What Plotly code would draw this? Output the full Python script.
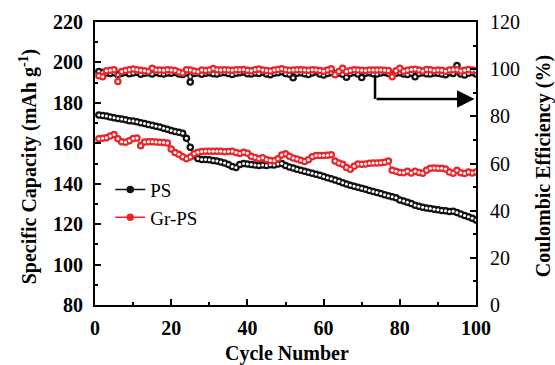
import plotly.graph_objects as go

# ---- data -------------------------------------------------------------
cycles = list(range(1, 101))

cap_ps = [
    174.0, 173.8, 173.5, 173.0, 172.6, 172.3, 172.0, 171.6, 171.2, 171.0,
    170.6, 170.2, 169.8, 169.3, 168.9, 168.4, 168.0, 167.4, 166.9, 166.3,
    165.8, 165.5, 165.0, 162.5, 158.0, 154.0, 152.5, 152.0, 152.0, 151.8,
    151.5, 151.2, 150.8, 150.3, 149.5, 148.5, 148.0, 149.5, 150.0, 149.8,
    149.5, 149.3, 149.0, 149.2, 149.0, 149.4, 149.2, 149.8, 150.0, 149.0,
    148.3, 147.8, 147.2, 146.6, 146.2, 145.7, 145.2, 144.7, 144.2, 143.6,
    143.0, 142.4, 141.8, 141.2, 140.5, 139.8, 139.3, 138.8, 138.2, 137.7,
    137.2, 136.6, 136.1, 135.6, 135.1, 134.6, 134.0, 133.5, 133.0, 132.0,
    131.4, 130.8, 130.2, 129.4, 128.8, 128.4, 128.0, 127.7, 127.4, 127.1,
    126.8, 126.6, 126.3, 126.4, 125.8, 125.0, 124.3, 123.6, 122.9, 122.1,
]

cap_grps = [
    162.2, 162.5, 162.8, 163.6, 164.3, 162.3, 160.8, 160.5, 161.3, 162.4,
    162.6, 158.8, 160.6, 160.8, 160.7, 160.6, 160.5, 160.4, 160.2, 157.2,
    155.5, 154.6, 153.4, 152.4, 153.2, 154.8, 155.6, 155.9, 156.0, 156.0,
    156.0, 156.0, 156.0, 155.8, 155.9, 156.0, 155.4, 155.0, 155.6, 155.1,
    153.6, 153.0, 152.4, 152.8, 152.0, 151.5, 151.3, 152.4, 154.2, 154.8,
    153.6, 152.7, 152.2, 151.6, 151.0, 151.8, 153.4, 153.9, 154.0, 154.0,
    154.1, 154.3, 151.2, 150.2, 149.6, 148.0, 147.2, 148.6, 149.8, 149.6,
    149.8, 150.1, 150.2, 150.2, 150.4, 150.6, 151.2, 146.6, 146.2, 145.6,
    145.4, 146.2, 145.3, 146.2, 145.5, 145.2, 146.6, 147.6, 147.8, 147.7,
    147.6, 147.3, 145.8, 145.2, 146.6, 145.4, 145.1, 145.8, 145.3, 145.8,
]

ce_ps = [
    99.0, 98.6, 98.4, 98.2, 98.5, 97.6, 98.3, 98.6, 98.1, 98.4,
    98.7, 97.8, 98.3, 98.5, 98.0, 98.6, 98.2, 97.9, 98.4, 98.3,
    98.6, 98.0, 97.7, 98.5, 94.6, 98.2, 98.4, 97.8, 98.3, 98.5,
    98.1, 97.9, 98.4, 98.6, 98.2, 97.7, 98.3, 98.5, 98.8, 98.1,
    97.9, 98.4, 98.2, 98.7, 98.0, 97.6, 98.3, 98.5, 98.9, 98.2,
    97.8, 96.4, 98.3, 98.5, 98.1, 97.7, 98.4, 98.9, 98.0, 97.5,
    98.2, 98.5, 98.1, 98.3, 97.8, 96.6, 98.2, 98.6, 98.0, 96.5,
    98.3, 98.5, 98.1, 97.9, 98.4, 98.6, 98.2, 97.8, 98.3, 98.5,
    98.0, 97.7, 98.3, 96.8, 98.2, 98.5, 98.1, 97.9, 98.4, 98.3,
    98.0, 97.6, 98.5, 98.2, 101.6, 98.0, 97.5, 98.3, 98.6, 98.0,
]

ce_grps = [
    97.2, 96.8, 99.3, 99.5, 99.8, 94.8, 99.0, 99.4, 99.7, 100.1,
    99.8, 99.5, 99.3, 99.0, 100.4, 99.6, 99.6, 99.5, 99.7, 99.6,
    99.4, 98.8, 98.4, 99.7, 99.6, 99.2, 98.9, 99.6, 99.4, 99.6,
    100.3, 99.8, 99.6, 99.7, 99.6, 99.5, 99.7, 99.8, 99.9, 99.5,
    99.3, 99.7, 100.1, 99.6, 99.4, 99.2, 99.6, 99.9, 100.2, 99.7,
    99.5, 99.6, 99.8, 99.7, 99.6, 99.5, 99.7, 99.6, 99.4, 99.1,
    99.6, 100.2, 97.6, 99.0, 100.4, 99.0, 99.4, 99.7, 99.6, 99.5,
    99.4, 99.6, 99.6, 99.6, 99.6, 99.5, 99.4, 96.8, 99.3, 100.4,
    99.1, 99.5, 99.9, 100.0, 99.6, 99.2, 99.9, 99.8, 99.4, 99.6,
    99.5, 99.1, 99.6, 99.8, 99.7, 99.2, 99.5, 99.9, 99.6, 99.4,
]

# arrow marking which curve belongs to the right-hand axis
arrow_cycle = 73.5
arrow_from_ce = 97.0
arrow_to_cycle = 99.6
arrow_level_ce = 87.4

BLACK = "#111111"
RED = "#e8262a"
FONT = "Liberation Serif"

fig = go.Figure()


def add_series(x, y, color, name, yaxis, legend):
    fig.add_trace(go.Scatter(
        x=x, y=y, name=name, yaxis=yaxis, mode="lines+markers",
        line=dict(color=color, width=1.5),
        marker=dict(symbol="circle", size=7.5, color=color),
        showlegend=legend, legendgroup=name,
    ))
    # bright glint in the middle of each sphere
    fig.add_trace(go.Scatter(
        x=x, y=y, yaxis=yaxis, mode="markers",
        marker=dict(symbol="circle", size=3, color="white"),
        showlegend=False, hoverinfo="skip", legendgroup=name,
    ))


add_series(cycles, ce_ps, BLACK, "PS", "y2", False)
add_series(cycles, ce_grps, RED, "Gr-PS", "y2", False)
add_series(cycles, cap_ps, BLACK, "PS", "y", True)
add_series(cycles, cap_grps, RED, "Gr-PS", "y", True)

# elbow connector + arrow head pointing to the right axis
fig.add_shape(type="line", xref="x", yref="y2",
              x0=arrow_cycle, x1=arrow_cycle, y0=arrow_from_ce, y1=arrow_level_ce,
              line=dict(color="black", width=2.5))
fig.add_annotation(x=arrow_to_cycle, y=arrow_level_ce, xref="x", yref="y2",
                   ax=arrow_cycle, ay=arrow_level_ce, axref="x", ayref="y2",
                   showarrow=True, arrowhead=2, arrowsize=1.4, arrowwidth=2.5,
                   arrowcolor="black", text="", standoff=0, startstandoff=0)

axis_common = dict(
    showline=True, linecolor="black", linewidth=2,
    ticks="inside", ticklen=6, tickwidth=2, tickcolor="black",
    showgrid=False, zeroline=False,
)

fig.update_layout(
    width=555, height=365,
    margin=dict(l=95, r=79, t=22, b=60),
    paper_bgcolor="white", plot_bgcolor="white",
    font=dict(family=FONT, color="black", size=18),
    xaxis=dict(
        range=[0, 100], dtick=20, tick0=0, mirror=True,
        tickfont=dict(family=FONT, size=20, weight="bold"),
        ticklabelstandoff=4,
        minor=dict(dtick=10, ticks="inside", ticklen=3, tickwidth=2, tickcolor="black"),
        **axis_common,
    ),
    yaxis=dict(
        range=[80, 220], dtick=20, tick0=80,
        tickfont=dict(family=FONT, size=20, weight="bold"),
        ticklabelstandoff=6,
        minor=dict(dtick=10, ticks="inside", ticklen=3, tickwidth=2, tickcolor="black"),
        **axis_common,
    ),
    yaxis2=dict(
        range=[0, 120], dtick=20, tick0=0, overlaying="y", side="right",
        tickfont=dict(family=FONT, size=20),
        ticklabelstandoff=8,
        minor=dict(dtick=10, ticks="inside", ticklen=3, tickwidth=2, tickcolor="black"),
        **axis_common,
    ),
    legend=dict(
        x=0.04, y=0.475, xanchor="left", yanchor="top",
        bgcolor="rgba(0,0,0,0)", font=dict(family=FONT, size=19),
        tracegroupgap=0,
    ),
    showlegend=True,
)

# axis titles
title_font = dict(family=FONT, size=20, color="black", weight="bold")
fig.add_annotation(text="Specific Capacity (mAh g<sup>-1</sup>)", xref="paper", yref="paper",
                   x=-0.176, y=0.49, xanchor="center", yanchor="middle",
                   textangle=-90, showarrow=False, font=title_font)
fig.add_annotation(text="Coulombic Efficiency (%)", xref="paper", yref="paper",
                   x=1.178, y=0.49, xanchor="center", yanchor="middle",
                   textangle=-90, showarrow=False, font=title_font)
fig.add_annotation(text="Cycle Number", xref="paper", yref="paper",
                   x=0.505, y=-0.173, xanchor="center", yanchor="middle",
                   showarrow=False, font=title_font)

fig.write_html("out.html")
